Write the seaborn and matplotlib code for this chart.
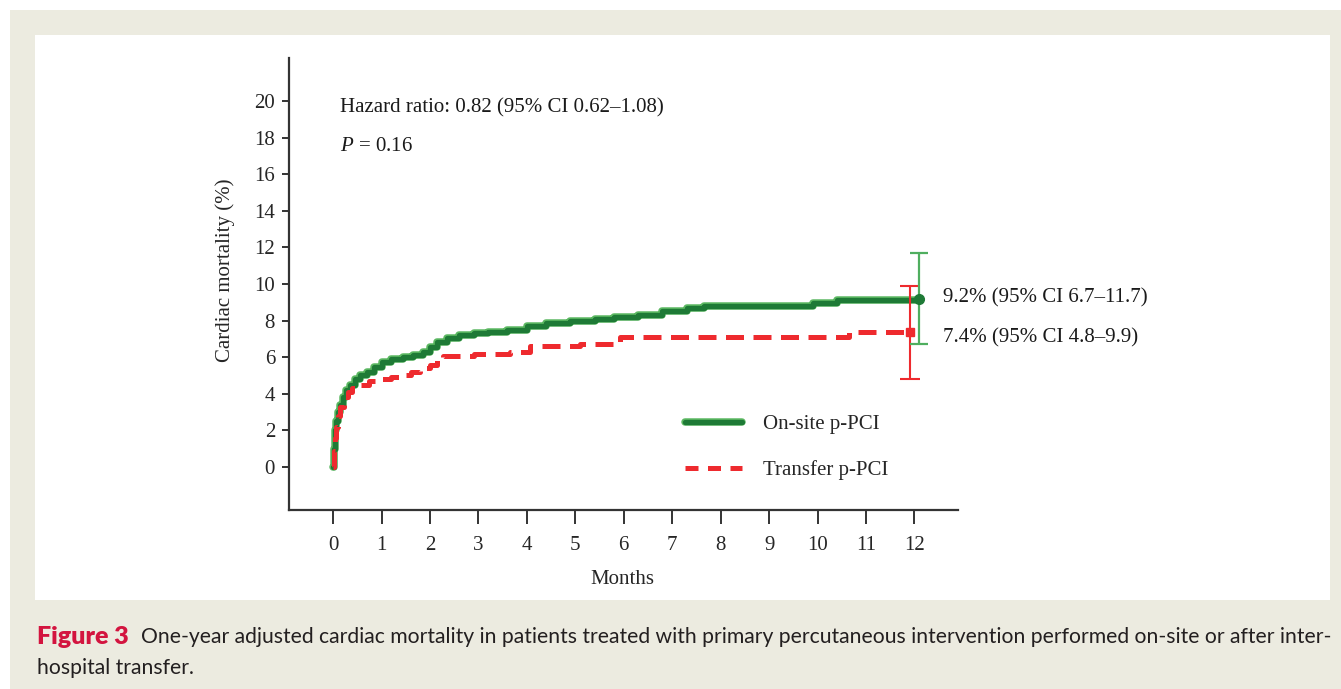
"""Adjusted one-year cardiac mortality, on-site vs transfer p-PCI."""

import matplotlib

matplotlib.use("Agg")
import matplotlib.pyplot as plt
import matplotlib.patheffects as pe
import seaborn as sns
from matplotlib.patches import Rectangle

# Kaplan-Meier style curves (months, cumulative cardiac mortality %)
onsite_months = [0.00, 0.01, 0.03, 0.06, 0.10, 0.15, 0.20, 0.27, 0.35, 0.45,
                 0.55, 0.70, 0.85, 1.00, 1.20, 1.45, 1.65, 1.85, 2.00, 2.15,
                 2.35, 2.60, 2.90, 3.20, 3.60, 4.00, 4.40, 4.90, 5.40, 5.80,
                 6.30, 6.80, 7.30, 7.65, 9.90, 10.40, 12.10]
onsite_mortality = [0.0, 1.0, 2.0, 2.5, 3.0, 3.4, 3.8, 4.2, 4.5, 4.8,
                    5.0, 5.2, 5.45, 5.75, 5.9, 6.0, 6.1, 6.3, 6.55, 6.85,
                    7.05, 7.2, 7.3, 7.4, 7.5, 7.7, 7.85, 8.0, 8.1, 8.2,
                    8.3, 8.5, 8.7, 8.8, 8.95, 9.1, 9.2]

transfer_months = [0.00, 0.01, 0.03, 0.06, 0.10, 0.15, 0.22, 0.30, 0.40, 0.56,
                   0.75, 0.97, 1.20, 1.38, 1.60, 1.80, 2.00, 2.15, 2.27, 2.90,
                   3.66, 4.07, 5.10, 5.93, 10.64, 11.90]
transfer_mortality = [0.0, 0.9, 1.6, 2.2, 2.8, 3.3, 3.8, 4.1, 4.3, 4.5,
                      4.7, 4.8, 4.9, 5.0, 5.2, 5.4, 5.6, 5.85, 6.05, 6.15,
                      6.3, 6.6, 6.7, 7.1, 7.4, 7.4]

# one-year estimates with 95% CI
groups = ["On-site p-PCI", "Transfer p-PCI"]
end_month = [12.1, 11.9]
end_estimate = [9.2, 7.4]
ci_low = [6.7, 4.8]
ci_high = [11.7, 9.9]
end_labels = ["9.2% (95% CI 6.7\u201311.7)", "7.4% (95% CI 4.8\u20139.9)"]

x_ticks = list(range(0, 13))
y_ticks = list(range(0, 21, 2))

hazard_text = "Hazard ratio: 0.82 (95% CI 0.62\u20131.08)"
p_text = "$P$ = 0.16"
caption_head = "Figure 3"
caption_body = ("One-year adjusted cardiac mortality in patients treated with primary "
                "percutaneous intervention performed on-site or after inter-")
caption_tail = "hospital transfer."

GREEN = "#1e7a36"
GREEN_HALO = "#5cb862"
GREEN_CI = "#4fae5f"
RED = "#ee2a2e"
BEIGE = "#ecebe0"
TXT = 15

sns.set_style("white")
plt.rcParams["font.family"] = ["Liberation Serif", "DejaVu Serif"]
plt.rcParams["mathtext.fontset"] = "custom"
plt.rcParams["mathtext.it"] = "Liberation Serif:italic"
plt.rcParams["mathtext.rm"] = "Liberation Serif"

W, H = 1341, 689
fig = plt.figure(figsize=(W / 100, H / 100), dpi=100)
fig.patch.set_facecolor("white")

# page background and white panel
fig.add_artist(Rectangle((10 / W, 0), 1 - 10 / W, 1 - 10 / H, transform=fig.transFigure,
                         facecolor=BEIGE, edgecolor="none", zorder=-10))
fig.add_artist(Rectangle((35 / W, (H - 600) / H), (1330 - 35) / W, (600 - 35) / H,
                         transform=fig.transFigure, facecolor="white", edgecolor="none",
                         zorder=-9))

ax = fig.add_axes([289 / W, (H - 510) / H, (958 - 289) / W, (510 - 58) / H])
ax.set_facecolor("none")

sns.lineplot(x=onsite_months, y=onsite_mortality, ax=ax, color=GREEN, lw=3.8,
             drawstyle="steps-post", label=groups[0], estimator=None, sort=False,
             path_effects=[pe.Stroke(linewidth=5.4, foreground=GREEN_HALO), pe.Normal()])
sns.lineplot(x=transfer_months, y=transfer_mortality, ax=ax, color=RED, lw=3.6,
             drawstyle="steps-post", label=groups[1], estimator=None, sort=False,
             linestyle=(0, (3.6, 1.9)))

# end-of-follow-up estimates with confidence intervals
ax.errorbar(end_month[1], end_estimate[1],
            yerr=[[end_estimate[1] - ci_low[1]], [ci_high[1] - end_estimate[1]]],
            fmt="s", color=RED, ms=6, elinewidth=1.5, capsize=7, capthick=1.5,
            zorder=5, clip_on=False)
ax.errorbar(end_month[0], end_estimate[0],
            yerr=[[end_estimate[0] - ci_low[0]], [ci_high[0] - end_estimate[0]]],
            fmt="none", ecolor=GREEN_CI, elinewidth=1.6, capsize=6.5, capthick=1.6,
            zorder=5, clip_on=False)
ax.plot(end_month[0], end_estimate[0], "o", color=GREEN, ms=7, zorder=6, clip_on=False)

for lab, y in zip(end_labels, [9.23, 7.05]):
    ax.text(12.6, y, lab, fontsize=TXT, va="center", ha="left", color="#1a1a1a",
            clip_on=False)

ax.text(0.145, 19.6, hazard_text, fontsize=TXT, va="center", ha="left", color="#1a1a1a")
ax.text(0.145, 17.5, p_text, fontsize=TXT, va="center", ha="left", color="#1a1a1a")

ax.set_xlim(-0.91, 12.9)
ax.set_ylim(-2.35, 22.35)
ax.set_xticks(x_ticks)
ax.set_yticks(y_ticks)
ax.tick_params(axis="x", length=10, width=1.4, pad=9, labelsize=TXT, color="#333333",
               direction="out", bottom=True)
ax.tick_params(axis="y", length=5, width=1.4, pad=5, labelsize=TXT, color="#333333",
               direction="out", left=True)
for side in ["top", "right"]:
    ax.spines[side].set_visible(False)
for side in ["left", "bottom"]:
    ax.spines[side].set_linewidth(1.6)
    ax.spines[side].set_color("#333333")

ax.set_xlabel("Months", fontsize=TXT)
ax.set_ylabel("Cardiac mortality (%)", fontsize=TXT)
ax.xaxis.set_label_coords(0.498, -0.132)
ax.yaxis.set_label_coords(-0.080, 0.531)

leg = ax.legend(loc="center left", bbox_to_anchor=(0.592, 0.139), frameon=False,
                fontsize=TXT, handlelength=2.75, handletextpad=1.0, labelspacing=1.25,
                borderpad=0, borderaxespad=0)
# legend shows three evenly spaced dashes for the transfer group
leg.get_lines()[1].set_linestyle((0, (2.6, 1.9)))

# caption
fig.canvas.draw()
renderer = fig.canvas.get_renderer()
head = fig.text(37 / W, 1 - 637 / H, caption_head, fontsize=18, fontweight="heavy",
                family="Lato", color="#d3143f", va="center", ha="left")
bbox = head.get_window_extent(renderer)
fig.text((bbox.x1 + 12) / W, 1 - 637 / H, caption_body, fontsize=15.2, family="Lato",
         color="#231f20", va="center", ha="left")
fig.text(37 / W, 1 - 668 / H, caption_tail, fontsize=15.2, family="Lato",
         color="#231f20", va="center", ha="left")

fig.savefig("out.png", dpi=100)
